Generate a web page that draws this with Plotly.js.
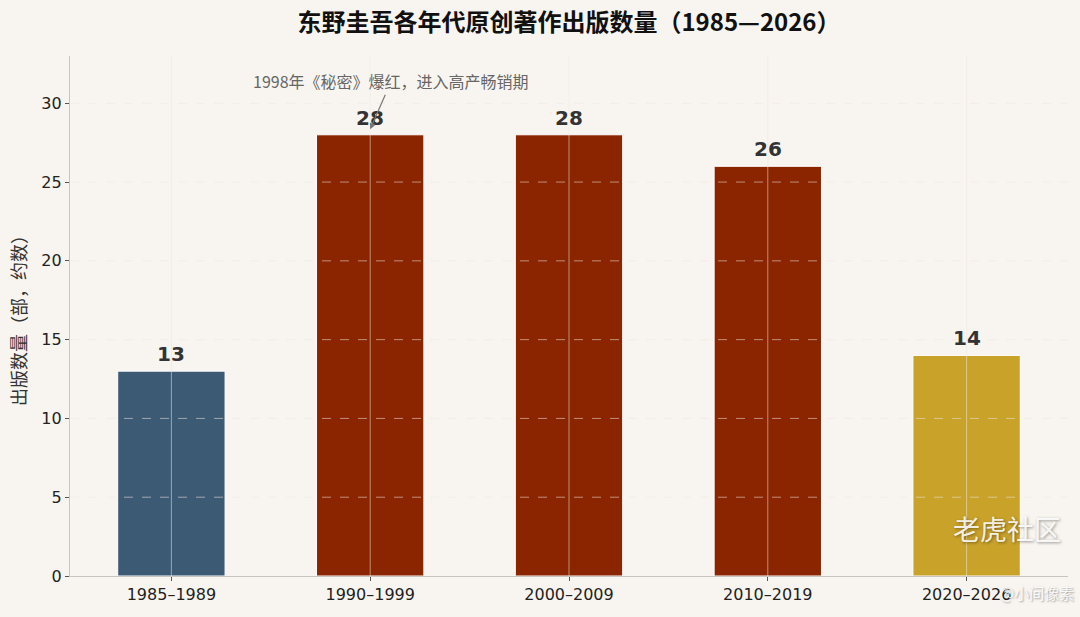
<!DOCTYPE html>
<html>
<head>
<meta charset="utf-8">
<script src="https://cdn.plot.ly/plotly-3.0.1.min.js"></script>
<style>
  html, body { margin: 0; padding: 0; background: #f8f5f0; }
  #chart { width: 1080px; height: 617px; }
</style>
</head>
<body>
<div id="chart"></div>
<script>
// 各年代出版数量（部，约数）
const periods = ['1985–1989', '1990–1999', '2000–2009', '2010–2019', '2020–2026']
const counts = [13, 28, 28, 26, 14]
const barColors = ['#3d5a75', '#8b2500', '#8b2500', '#8b2500', '#c9a22a']
const yTicks = [0, 5, 10, 15, 20, 25, 30]

const cjk = '"Noto Sans CJK SC", "DejaVu Sans", sans-serif'
const latin = '"DejaVu Sans", "Noto Sans CJK SC", sans-serif'
const gridColor = 'rgba(238,230,222,0.55)'

const data = [{
    type: 'bar',
    x: periods,
    y: counts,
    width: 0.54,
    marker: {
        color: barColors,
        line: {color: '#ffffff', width: 1}
    },
    hoverinfo: 'x+y'
}]

// grid drawn over the bars, like the original
let shapes = []
yTicks.slice(1).forEach(v => {
    shapes.push({
        type: 'line', layer: 'above',
        xref: 'x domain', x0: 0, x1: 1,
        yref: 'y', y0: v, y1: v,
        line: {color: gridColor, width: 1, dash: 'dash'}
    })
})
periods.forEach(p => {
    shapes.push({
        type: 'line', layer: 'above',
        xref: 'x', x0: p, x1: p,
        yref: 'y domain', y0: 0, y1: 1,
        line: {color: gridColor, width: 1}
    })
})

let annotations = periods.map((p, i) => ({
    x: p, y: counts[i],
    xref: 'x', yref: 'y',
    text: '<b>' + counts[i] + '</b>',
    showarrow: false,
    yanchor: 'bottom',
    yshift: 3,
    font: {family: latin, size: 20, color: '#333333'}
}))

annotations.push({
    x: periods[1], y: 28.35,
    xref: 'x', yref: 'y',
    ax: 21, ay: -48,
    text: '1998年《秘密》爆红，进入高产畅销期',
    showarrow: true,
    arrowhead: 2,
    arrowsize: 1,
    arrowwidth: 1.2,
    arrowcolor: '#777777',
    font: {family: cjk, size: 16, color: '#666666'}
})

// watermark
annotations.push({
    xref: 'paper', yref: 'paper', x: 0.995, y: 0.05,
    xanchor: 'right', yanchor: 'bottom',
    text: '老虎社区', showarrow: false,
    font: {family: cjk, size: 27, color: 'rgba(255,255,255,0.9)',
           shadow: '1px 1px 3px rgba(0,0,0,0.45)'}
})
annotations.push({
    xref: 'paper', yref: 'paper', x: 1.008, y: -0.032,
    xanchor: 'right', yanchor: 'middle',
    text: '@小间像素', showarrow: false,
    font: {family: cjk, size: 15, color: 'rgba(255,255,255,0.9)',
           shadow: '1px 1px 2px rgba(0,0,0,0.4)'}
})

const layout = {
    width: 1080,
    height: 617,
    margin: {l: 70, r: 12, t: 56, b: 41},
    paper_bgcolor: '#f8f5f0',
    plot_bgcolor: '#f8f5f0',
    title: {
        text: '<b>东野圭吾各年代原创著作出版数量（1985—2026）</b>',
        x: 0.5, xref: 'paper', xanchor: 'center',
        y: 0.963, yref: 'container', yanchor: 'middle',
        font: {family: cjk, size: 24, color: '#111111'}
    },
    xaxis: {
        type: 'category',
        range: [-0.51, 4.51],
        showgrid: false,
        showline: true,
        linecolor: '#c8c4be',
        linewidth: 1.2,
        ticks: 'outside',
        ticklen: 4,
        tickcolor: '#555555',
        tickfont: {family: latin, size: 16, color: '#222222'},
        zeroline: false
    },
    yaxis: {
        range: [0, 33],
        tickvals: yTicks,
        showgrid: false,
        showline: true,
        linecolor: '#c8c4be',
        linewidth: 1.2,
        ticks: 'outside',
        ticklen: 4,
        tickcolor: '#555555',
        tickfont: {family: latin, size: 16, color: '#222222'},
        zeroline: false,
        title: {
            text: '出版数量（部，约数）',
            font: {family: cjk, size: 18, color: '#333333'},
            standoff: 10
        }
    },
    shapes: shapes,
    annotations: annotations,
    showlegend: false,
    bargap: 0.46
}

Plotly.newPlot('chart', data, layout, {displayModeBar: false})
</script>
</body>
</html>
